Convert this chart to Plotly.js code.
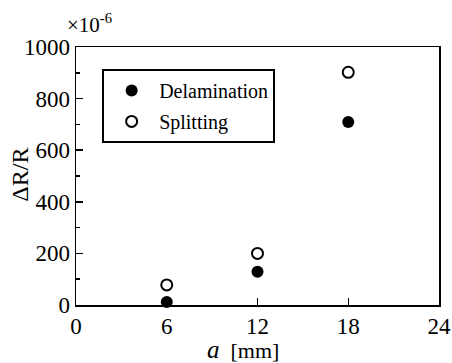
<!DOCTYPE html>
<html>
<head>
<meta charset="utf-8">
<script src="https://cdn.plot.ly/plotly-3.0.1.min.js"></script>
<style>html,body{margin:0;padding:0;background:#fff;}#chart{width:452px;height:363px;}</style>
</head>
<body>
<div id="chart"></div>
<script>
const crackLength = [6, 12, 18];
const delamination = [12, 129, 709];
const splitting = [78, 200, 902];
const xTicks = [0, 6, 12, 18, 24];
const yTicks = [0, 200, 400, 600, 800, 1000];

const FONT = '"Liberation Serif", "Times New Roman", serif';

const traces = [
  {
    x: crackLength, y: delamination, name: 'Delamination', mode: 'markers', type: 'scatter',
    legendgroup: 'a',
    marker: {symbol: 'circle', size: 12, color: '#000', line: {width: 0}},
    cliponaxis: false
  },
  {
    x: crackLength, y: splitting, name: 'Splitting', mode: 'markers', type: 'scatter',
    legendgroup: 'b',
    marker: {symbol: 'circle-open', size: 11, color: '#000', line: {width: 2, color: '#000'}},
    cliponaxis: false
  }
];

const layout = {
  width: 452, height: 363,
  margin: {l: 76, r: 13, t: 47, b: 58},
  paper_bgcolor: '#fff', plot_bgcolor: '#fff',
  font: {family: FONT, color: '#000', size: 20},
  showlegend: true,
  legend: {
    x: 0.072, y: 0.915, xanchor: 'left', yanchor: 'top',
    bordercolor: '#000', borderwidth: 2, bgcolor: '#fff',
    font: {family: FONT, size: 20, color: '#000'},
    tracegroupgap: 2, traceorder: 'grouped', itemwidth: 45
  },
  xaxis: {
    range: [0, 24], tickvals: xTicks, ticktext: xTicks.map(String),
    ticks: 'inside', ticklen: 7, tickwidth: 1.5, tickcolor: '#000',
    showline: true, linecolor: '#000', linewidth: 1.5, mirror: true,
    showgrid: false, zeroline: false,
    tickfont: {family: FONT, size: 23, color: '#000'}
  },
  yaxis: {
    range: [0, 1000], tickvals: yTicks, ticktext: yTicks.map(String),
    ticks: 'inside', ticklen: 7, tickwidth: 1.5, tickcolor: '#000',
    minor: {dtick: 100, ticks: 'inside', ticklen: 4, tickwidth: 1.5, tickcolor: '#000', showgrid: false},
    showline: true, linecolor: '#000', linewidth: 1.5, mirror: true,
    showgrid: false, zeroline: false,
    tickfont: {family: FONT, size: 23, color: '#000'}
  },
  annotations: [
    {
      xref: 'paper', yref: 'paper', x: -0.03, y: 1.09, xanchor: 'left', yanchor: 'middle',
      showarrow: false,
      text: '×10<sup>-6</sup>', font: {family: FONT, size: 21, color: '#000'}
    },
    {
      xref: 'paper', yref: 'paper', x: -0.155, y: 0.504, xanchor: 'center', yanchor: 'middle',
      showarrow: false, textangle: -90,
      text: 'ΔR/R', font: {family: FONT, size: 24, color: '#000'}
    },
    {
      xref: 'paper', yref: 'paper', x: 0.46, y: -0.172, xanchor: 'center', yanchor: 'middle',
      showarrow: false,
      text: '<i style="font-size:25px">a</i>  [mm]', font: {family: FONT, size: 22, color: '#000'}
    }
  ]
};

Plotly.newPlot('chart', traces, layout, {displayModeBar: false, staticPlot: true});
</script>
</body>
</html>
